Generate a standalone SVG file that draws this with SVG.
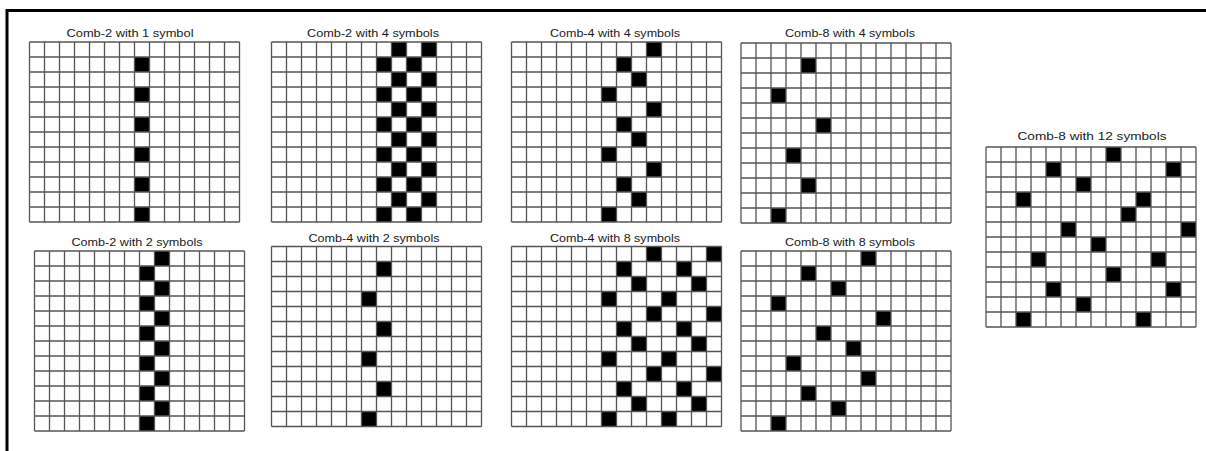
<svg xmlns="http://www.w3.org/2000/svg" xmlns:xlink="http://www.w3.org/1999/xlink" width="1206" height="451" viewBox="0 0 1206 451">
<style>
.t{font-family:"Liberation Sans","Open Sans",Arial,sans-serif;font-size:11.5px;fill:#1a1a1a;text-anchor:middle}
.g{fill:none;stroke:#555;stroke-width:1.3}
.b{fill:#000}
</style>
<defs>
<path id="grid" class="g" d="M0,0V180M15,0V180M30,0V180M45,0V180M60,0V180M75,0V180M90,0V180M105,0V180M120,0V180M135,0V180M150,0V180M165,0V180M180,0V180M195,0V180M210,0V180M0,0H210M0,15H210M0,30H210M0,45H210M0,60H210M0,75H210M0,90H210M0,105H210M0,120H210M0,135H210M0,150H210M0,165H210M0,180H210"/>
<rect id="c" class="b" width="15" height="15"/>
</defs>
<rect width="1206" height="451" fill="#fff"/>
<path d="M7,451V10.5H1206" fill="none" stroke="#000" stroke-width="3"/>

<g id="comb2-1sym">
<text class="t" x="130" y="37" textLength="127" lengthAdjust="spacingAndGlyphs">Comb-2 with 1 symbol</text>
<g transform="translate(29.5,42)">
<rect width="210" height="180" fill="#fff"/>
<use xlink:href="#c" x="105" y="15"/><use xlink:href="#c" x="105" y="45"/><use xlink:href="#c" x="105" y="75"/><use xlink:href="#c" x="105" y="105"/><use xlink:href="#c" x="105" y="135"/><use xlink:href="#c" x="105" y="165"/>
<use xlink:href="#grid"/>
</g>
</g>

<g id="comb2-4sym">
<text class="t" x="373" y="37" textLength="132" lengthAdjust="spacingAndGlyphs">Comb-2 with 4 symbols</text>
<g transform="translate(271.5,42)">
<use xlink:href="#c" x="120" y="0"/><use xlink:href="#c" x="150" y="0"/>
<use xlink:href="#c" x="105" y="15"/><use xlink:href="#c" x="135" y="15"/>
<use xlink:href="#c" x="120" y="30"/><use xlink:href="#c" x="150" y="30"/>
<use xlink:href="#c" x="105" y="45"/><use xlink:href="#c" x="135" y="45"/>
<use xlink:href="#c" x="120" y="60"/><use xlink:href="#c" x="150" y="60"/>
<use xlink:href="#c" x="105" y="75"/><use xlink:href="#c" x="135" y="75"/>
<use xlink:href="#c" x="120" y="90"/><use xlink:href="#c" x="150" y="90"/>
<use xlink:href="#c" x="105" y="105"/><use xlink:href="#c" x="135" y="105"/>
<use xlink:href="#c" x="120" y="120"/><use xlink:href="#c" x="150" y="120"/>
<use xlink:href="#c" x="105" y="135"/><use xlink:href="#c" x="135" y="135"/>
<use xlink:href="#c" x="120" y="150"/><use xlink:href="#c" x="150" y="150"/>
<use xlink:href="#c" x="105" y="165"/><use xlink:href="#c" x="135" y="165"/>
<use xlink:href="#grid"/>
</g>
</g>

<g id="comb4-4sym">
<text class="t" x="615" y="37" textLength="130" lengthAdjust="spacingAndGlyphs">Comb-4 with 4 symbols</text>
<g transform="translate(511.5,42)">
<use xlink:href="#c" x="135" y="0"/><use xlink:href="#c" x="105" y="15"/><use xlink:href="#c" x="120" y="30"/><use xlink:href="#c" x="90" y="45"/>
<use xlink:href="#c" x="135" y="60"/><use xlink:href="#c" x="105" y="75"/><use xlink:href="#c" x="120" y="90"/><use xlink:href="#c" x="90" y="105"/>
<use xlink:href="#c" x="135" y="120"/><use xlink:href="#c" x="105" y="135"/><use xlink:href="#c" x="120" y="150"/><use xlink:href="#c" x="90" y="165"/>
<use xlink:href="#grid"/>
</g>
</g>

<g id="comb8-4sym">
<text class="t" x="850" y="37" textLength="130" lengthAdjust="spacingAndGlyphs">Comb-8 with 4 symbols</text>
<g transform="translate(741,43)">
<use xlink:href="#c" x="60" y="15"/><use xlink:href="#c" x="30" y="45"/><use xlink:href="#c" x="75" y="75"/>
<use xlink:href="#c" x="45" y="105"/><use xlink:href="#c" x="60" y="135"/><use xlink:href="#c" x="30" y="165"/>
<use xlink:href="#grid"/>
</g>
</g>

<g id="comb2-2sym">
<text class="t" x="137" y="246" textLength="131" lengthAdjust="spacingAndGlyphs">Comb-2 with 2 symbols</text>
<g transform="translate(34.5,251)">
<use xlink:href="#c" x="120" y="0"/><use xlink:href="#c" x="105" y="15"/><use xlink:href="#c" x="120" y="30"/><use xlink:href="#c" x="105" y="45"/>
<use xlink:href="#c" x="120" y="60"/><use xlink:href="#c" x="105" y="75"/><use xlink:href="#c" x="120" y="90"/><use xlink:href="#c" x="105" y="105"/>
<use xlink:href="#c" x="120" y="120"/><use xlink:href="#c" x="105" y="135"/><use xlink:href="#c" x="120" y="150"/><use xlink:href="#c" x="105" y="165"/>
<use xlink:href="#grid"/>
</g>
</g>

<g id="comb4-2sym">
<text class="t" x="374" y="242" textLength="131" lengthAdjust="spacingAndGlyphs">Comb-4 with 2 symbols</text>
<g transform="translate(271.5,246.5)">
<use xlink:href="#c" x="105" y="15"/><use xlink:href="#c" x="90" y="45"/><use xlink:href="#c" x="105" y="75"/>
<use xlink:href="#c" x="90" y="105"/><use xlink:href="#c" x="105" y="135"/><use xlink:href="#c" x="90" y="165"/>
<use xlink:href="#grid"/>
</g>
</g>

<g id="comb4-8sym">
<text class="t" x="615" y="242" textLength="130" lengthAdjust="spacingAndGlyphs">Comb-4 with 8 symbols</text>
<g transform="translate(511.5,246.5)">
<use xlink:href="#c" x="135" y="0"/><use xlink:href="#c" x="195" y="0"/>
<use xlink:href="#c" x="105" y="15"/><use xlink:href="#c" x="165" y="15"/>
<use xlink:href="#c" x="120" y="30"/><use xlink:href="#c" x="180" y="30"/>
<use xlink:href="#c" x="90" y="45"/><use xlink:href="#c" x="150" y="45"/>
<use xlink:href="#c" x="135" y="60"/><use xlink:href="#c" x="195" y="60"/>
<use xlink:href="#c" x="105" y="75"/><use xlink:href="#c" x="165" y="75"/>
<use xlink:href="#c" x="120" y="90"/><use xlink:href="#c" x="180" y="90"/>
<use xlink:href="#c" x="90" y="105"/><use xlink:href="#c" x="150" y="105"/>
<use xlink:href="#c" x="135" y="120"/><use xlink:href="#c" x="195" y="120"/>
<use xlink:href="#c" x="105" y="135"/><use xlink:href="#c" x="165" y="135"/>
<use xlink:href="#c" x="120" y="150"/><use xlink:href="#c" x="180" y="150"/>
<use xlink:href="#c" x="90" y="165"/><use xlink:href="#c" x="150" y="165"/>
<use xlink:href="#grid"/>
</g>
</g>

<g id="comb8-8sym">
<text class="t" x="850" y="246" textLength="130" lengthAdjust="spacingAndGlyphs">Comb-8 with 8 symbols</text>
<g transform="translate(741,251)">
<use xlink:href="#c" x="120" y="0"/><use xlink:href="#c" x="60" y="15"/><use xlink:href="#c" x="90" y="30"/><use xlink:href="#c" x="30" y="45"/>
<use xlink:href="#c" x="135" y="60"/><use xlink:href="#c" x="75" y="75"/><use xlink:href="#c" x="105" y="90"/><use xlink:href="#c" x="45" y="105"/>
<use xlink:href="#c" x="120" y="120"/><use xlink:href="#c" x="60" y="135"/><use xlink:href="#c" x="90" y="150"/><use xlink:href="#c" x="30" y="165"/>
<use xlink:href="#grid"/>
</g>
</g>

<g id="comb8-12sym">
<text class="t" x="1092" y="140" textLength="149" lengthAdjust="spacingAndGlyphs">Comb-8 with 12 symbols</text>
<g transform="translate(986,147)">
<use xlink:href="#c" x="120" y="0"/>
<use xlink:href="#c" x="60" y="15"/><use xlink:href="#c" x="180" y="15"/>
<use xlink:href="#c" x="90" y="30"/>
<use xlink:href="#c" x="30" y="45"/><use xlink:href="#c" x="150" y="45"/>
<use xlink:href="#c" x="135" y="60"/>
<use xlink:href="#c" x="75" y="75"/><use xlink:href="#c" x="195" y="75"/>
<use xlink:href="#c" x="105" y="90"/>
<use xlink:href="#c" x="45" y="105"/><use xlink:href="#c" x="165" y="105"/>
<use xlink:href="#c" x="120" y="120"/>
<use xlink:href="#c" x="60" y="135"/><use xlink:href="#c" x="180" y="135"/>
<use xlink:href="#c" x="90" y="150"/>
<use xlink:href="#c" x="30" y="165"/><use xlink:href="#c" x="150" y="165"/>
<use xlink:href="#grid"/>
</g>
</g>
</svg>
